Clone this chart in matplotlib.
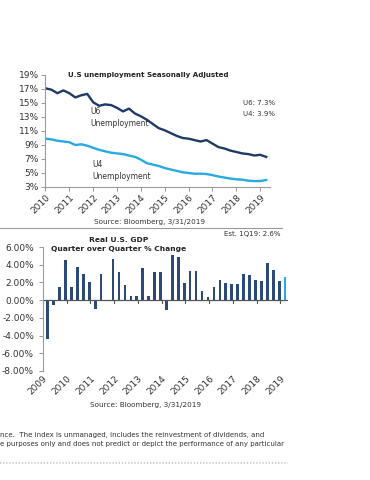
import numpy as np
import matplotlib.pyplot as plt

# Desempleo trimestral (2010 Q1 - 2019 Q1), en %
u_years = np.arange(2010.0, 2019.26, 0.25)
u6 = [17.1, 16.9, 16.4, 16.8, 16.4, 15.8, 16.1, 16.3,
      15.1, 14.6, 14.8, 14.7, 14.3, 13.8, 14.2, 13.5,
      13.1, 12.6, 12.0, 11.4, 11.1, 10.7, 10.3, 10.0,
      9.9, 9.7, 9.5, 9.7, 9.2, 8.7, 8.5, 8.2,
      8.0, 7.8, 7.7, 7.5, 7.6, 7.3]
u4 = [9.9, 9.8, 9.6, 9.5, 9.4, 9.0, 9.1, 8.9,
      8.6, 8.3, 8.1, 7.9, 7.8, 7.7, 7.5, 7.3,
      6.9, 6.4, 6.2, 6.0, 5.7, 5.5, 5.3, 5.1,
      5.0, 4.9, 4.9, 4.85, 4.7, 4.5, 4.35, 4.2,
      4.1, 4.05, 3.9, 3.85, 3.85, 4.0]
u_ticks = list(range(2010, 2020))
u_yticks = [3, 5, 7, 9, 11, 13, 15, 17, 19]

# PIB real, variación trimestral anualizada (2009 Q1 - 2019 Q1)
gdp = [-4.4, -0.6, 1.5, 4.5, 1.5, 3.7, 3.0, 2.0,
       -1.0, 2.9, -0.1, 4.7, 3.2, 1.7, 0.5, 0.5,
       3.6, 0.5, 3.2, 3.2, -1.1, 5.1, 4.9, 1.9,
       3.3, 3.3, 1.0, 0.4, 1.5, 2.3, 1.9, 1.8,
       1.8, 3.0, 2.8, 2.3, 2.2, 4.2, 3.4, 2.2, 2.6]
gdp_x = 2009.2 + np.arange(len(gdp)) * 0.25
gdp_ticks = list(range(2009, 2020))
gdp_yticks = [-8, -6, -4, -2, 0, 2, 4, 6]

NAVY = "#1f3a66"
LIGHT = "#27a9e1"
BAR = "#2b4a78"
GRAY = "#9a9a9a"
TXT = "#333333"

plt.rcParams["font.family"] = ["DejaVu Sans"]

fig = plt.figure(figsize=(3.7, 4.8), dpi=100)

# --- Gráfico 1: desempleo ---
ax1 = fig.add_axes([45 / 370, 1 - 187 / 480, 225 / 370, 112 / 480])
ax1.plot(u_years, u6, color=NAVY, lw=1.7)
ax1.plot(u_years, u4, color=LIGHT, lw=1.7)
ax1.set_xlim(2009.98, 2019.41)
ax1.set_ylim(3, 19)
ax1.set_yticks(u_yticks)
ax1.set_yticklabels([f"{v}%" for v in u_yticks])
ax1.set_xticks(u_ticks)
ax1.set_xticklabels([str(y) for y in u_ticks], rotation=45, ha="right",
                    rotation_mode="anchor")
for s in ["top", "right"]:
    ax1.spines[s].set_visible(False)
for s in ["left", "bottom"]:
    ax1.spines[s].set_color(GRAY)
    ax1.spines[s].set_linewidth(0.8)
ax1.tick_params(axis="both", labelsize=6.5, colors=GRAY, labelcolor=TXT,
                length=3, width=0.7, pad=1.5)
ax1.text(0.1, 1.0, "U.S unemployment Seasonally Adjusted", transform=ax1.transAxes,
         fontsize=5.1, fontweight="bold", ha="left", va="center", color="#222222")
ax1.text(2011.9, 12.9, "U6\nUnemployment", fontsize=5.5, color=TXT, va="center",
         linespacing=1.4)
ax1.text(2011.95, 5.4, "U4\nUnemployment", fontsize=5.5, color=TXT, va="center",
         linespacing=1.4)
ax1.text(2018.28, 15.0, "U6: 7.3%", fontsize=5, color=TXT, va="center")
ax1.text(2018.28, 13.4, "U4: 3.9%", fontsize=5, color=TXT, va="center")

fig.text(150 / 370, 1 - 222 / 480, "Source: Bloomberg, 3/31/2019", fontsize=5.2,
         ha="center", va="center", color=TXT)
fig.add_artist(plt.Line2D([0, 282 / 370], [1 - 228 / 480] * 2, color=GRAY, lw=0.8))

# --- Gráfico 2: PIB ---
ax2 = fig.add_axes([43 / 370, 1 - 371 / 480, 245 / 370, 124 / 480])
colors = [BAR] * (len(gdp) - 1) + [LIGHT]
ax2.bar(gdp_x, gdp, width=0.11, color=colors)
ax2.set_xlim(2009, 2019.32)
ax2.set_ylim(-8, 6)
ax2.set_yticks(gdp_yticks)
ax2.set_yticklabels([f"{v:.2f}%" for v in gdp_yticks])
ax2.set_xticks(gdp_ticks)
ax2.set_xticklabels([str(y) for y in gdp_ticks], rotation=45, ha="right",
                    rotation_mode="anchor")
ax2.spines["bottom"].set_visible(False)
ax2.spines["top"].set_visible(False)
ax2.spines["right"].set_visible(False)
ax2.spines["left"].set_color(GRAY)
ax2.spines["left"].set_linewidth(0.8)
ax2.axhline(0, color="#555555", lw=0.9)
ax2.tick_params(axis="y", labelsize=6.5, colors=GRAY, labelcolor=TXT, length=3, width=0.7)
ax2.tick_params(axis="x", length=0, labelsize=6.5, labelcolor=TXT, pad=2)
for yr in gdp_ticks:
    ax2.plot([yr, yr], [0, -0.3], color="#555555", lw=0.8)
ax2.text(0.31, 1.06, "Real U.S. GDP", transform=ax2.transAxes, fontsize=5.4,
         fontweight="bold", ha="center", va="center", color="#222222")
ax2.text(0.31, 0.98, "Quarter over Quarter % Change", transform=ax2.transAxes,
         fontsize=5.4, fontweight="bold", ha="center", va="center", color="#222222")
ax2.text(0.971, 1.105, "Est. 1Q19: 2.6%", transform=ax2.transAxes, fontsize=5,
         ha="right", va="center", color=TXT)

fig.text(145 / 370, 1 - 405 / 480, "Source: Bloomberg, 3/31/2019", fontsize=5.2,
         ha="center", va="center", color=TXT)

# Texto de pie de página (cortado)
fig.text(0, 1 - 435 / 480, "nce.  The index is unmanaged, includes the reinvestment of dividends, and",
         fontsize=5, ha="left", va="center", color=TXT)
fig.text(0, 1 - 444 / 480, "e purposes only and does not predict or depict the performance of any particular",
         fontsize=5, ha="left", va="center", color=TXT)
fig.add_artist(plt.Line2D([0, 288 / 370], [1 - 463 / 480] * 2, color="#cccccc",
                          lw=1.5, ls=(0, (0.6, 0.9))))

fig.savefig("out.png", dpi=100)
